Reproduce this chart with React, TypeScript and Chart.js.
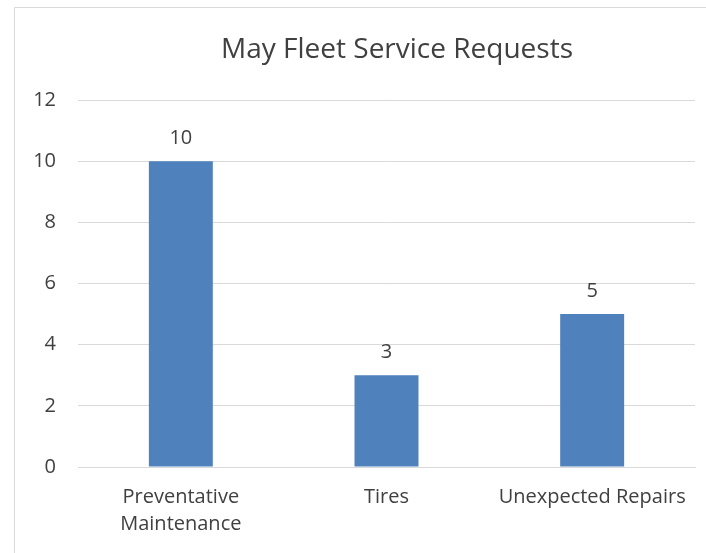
import React, { useEffect, useRef } from "react";
import { Chart, registerables } from "chart.js";

Chart.register(...registerables);

const categories: (string | string[])[] = [["Preventative", "Maintenance"], "Tires", "Unexpected Repairs"];
const requests: number[] = [10, 3, 5];
const yTicks: number[] = [0, 2, 4, 6, 8, 10, 12];
const titleText = "May Fleet Service Requests";

const FONT = "'Open Sans', 'Noto Sans', sans-serif";
const TEXT = "#404040";

const framePlugin = {
  id: "frame",
  beforeDraw(chart: any) {
    const ctx = chart.ctx;
    ctx.save();
    ctx.fillStyle = "#ffffff";
    ctx.fillRect(0, 0, chart.width, chart.height);
    ctx.strokeStyle = "#d9d9d9";
    ctx.lineWidth = 1;
    ctx.beginPath();
    ctx.moveTo(14.5, chart.height);
    ctx.lineTo(14.5, 7.5);
    ctx.lineTo(chart.width, 7.5);
    ctx.stroke();
    ctx.restore();
  },
  afterDraw(chart: any) {
    const ctx = chart.ctx;
    ctx.save();
    ctx.font = `28px ${FONT}`;
    ctx.fillStyle = TEXT;
    ctx.textAlign = "center";
    ctx.textBaseline = "alphabetic";
    ctx.fillText(titleText, 397, 58);
    ctx.restore();
  },
};

const valueLabels = {
  id: "valueLabels",
  afterDatasetsDraw(chart: any) {
    const ctx = chart.ctx;
    const meta = chart.getDatasetMeta(0);
    ctx.save();
    ctx.font = `20px ${FONT}`;
    ctx.fillStyle = TEXT;
    ctx.textAlign = "center";
    ctx.textBaseline = "alphabetic";
    meta.data.forEach((bar: any, i: number) => {
      ctx.fillText(String(chart.data.datasets[0].data[i]), bar.x, bar.y - 17);
    });
    ctx.restore();
  },
};

export default function App() {
  const ref = useRef<HTMLCanvasElement>(null);
  useEffect(() => {
    if (!ref.current) return;
    const chart = new Chart(ref.current, {
      type: "bar",
      data: {
        labels: categories,
        datasets: [
          {
            label: "Requests",
            data: requests,
            backgroundColor: "#4f81bd",
            categoryPercentage: 1,
            barPercentage: 0.311,
          },
        ],
      },
      options: {
        responsive: false,
        animation: false,
        devicePixelRatio: 1,
        layout: { padding: { left: 0, right: 11, top: 100, bottom: 0 } },
        plugins: {
          legend: { display: false },
          tooltip: { enabled: false },
          title: { display: false },
        },
        scales: {
          x: {
            grid: { display: false, drawTicks: false },
            border: { display: true, color: "#d9d9d9", width: 1 },
            ticks: {
              color: TEXT,
              font: { family: FONT, size: 20, lineHeight: 1.35 },
              padding: 17,
              maxRotation: 0,
              autoSkip: false,
            },
            afterFit(scale: any) {
              scale.height = 86;
            },
          },
          y: {
            min: 0,
            max: 12,
            afterBuildTicks(scale: any) {
              scale.ticks = yTicks.map((v) => ({ value: v }));
            },
            grid: { color: "#d9d9d9", drawTicks: false },
            border: { display: false },
            ticks: {
              color: TEXT,
              font: { family: FONT, size: 20 },
              padding: 22,
            },
            afterFit(scale: any) {
              scale.width = 78;
            },
          },
        },
      },
      plugins: [framePlugin, valueLabels],
    });
    return () => chart.destroy();
  }, []);
  return (
    <canvas
      ref={ref}
      width={706}
      height={553}
      style={{ position: "fixed", left: 0, top: 0, width: 706, height: 553 }}
    />
  );
}
